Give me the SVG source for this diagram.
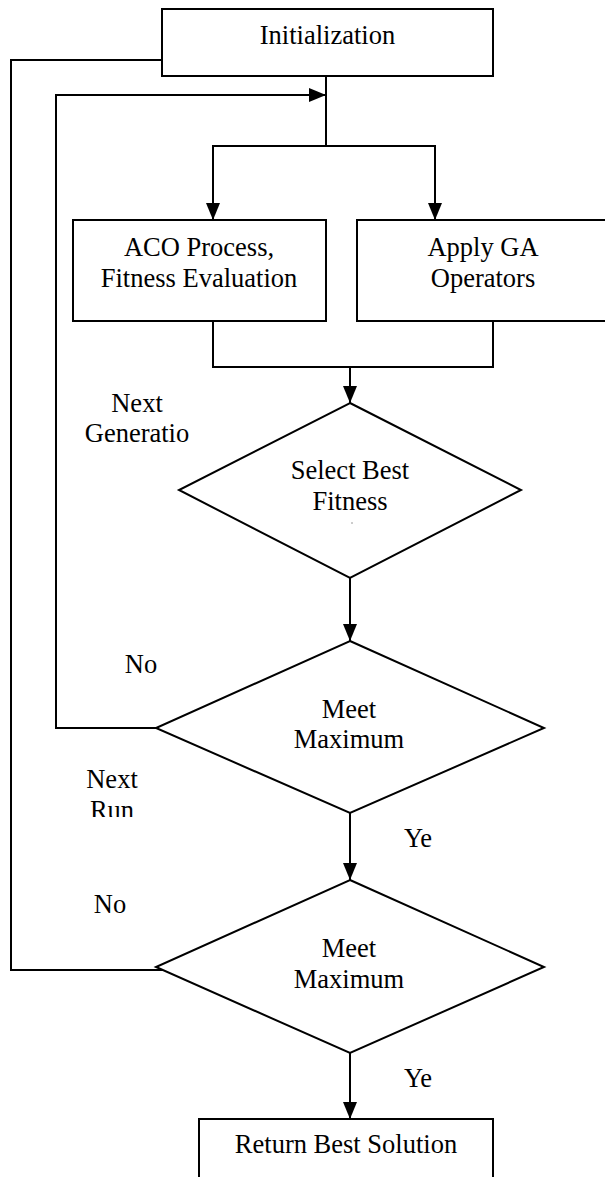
<svg xmlns="http://www.w3.org/2000/svg" width="605" height="1177" viewBox="0 0 605 1177">
  <style>
    .shape { fill: #ffffff; stroke: #000000; stroke-width: 2; }
    .wire { fill: none; stroke: #000000; stroke-width: 2; }
    .lbl { font-family: "Liberation Serif", "Times New Roman", serif; font-size: 26.5px; fill: #000000; text-anchor: middle; }
  </style>
  <defs>
    <marker id="arrow" markerUnits="userSpaceOnUse" markerWidth="18" markerHeight="14" refX="17" refY="7" orient="auto">
      <path d="M0,0 L17,7 L0,14 Z" fill="#000000"/>
    </marker>
    <clipPath id="runClip">
      <rect x="60" y="790" width="120" height="27"/>
    </clipPath>
  </defs>
  <rect width="605" height="1177" fill="#ffffff"/>

  <!-- connectors -->
  <g id="connectors">
    <!-- initialization to split -->
    <polyline class="wire" points="326,76 326,146"/>
    <line class="wire" x1="212" y1="146" x2="436" y2="146"/>
    <line class="wire" x1="213" y1="146" x2="213" y2="220" marker-end="url(#arrow)"/>
    <line class="wire" x1="435" y1="146" x2="435" y2="220" marker-end="url(#arrow)"/>
    <!-- join after the two process boxes -->
    <polyline class="wire" points="213,321 213,367 493,367 493,321"/>
    <line class="wire" x1="350" y1="367" x2="350" y2="403" marker-end="url(#arrow)"/>
    <!-- select best to first check -->
    <line class="wire" x1="350" y1="578" x2="350" y2="641" marker-end="url(#arrow)"/>
    <!-- first check to second check -->
    <line class="wire" x1="350" y1="813" x2="350" y2="880" marker-end="url(#arrow)"/>
    <!-- second check to result -->
    <line class="wire" x1="350" y1="1053" x2="350" y2="1119" marker-end="url(#arrow)"/>
    <!-- next generation loop -->
    <polyline class="wire" points="156,728 56,728 56,95 326,95" marker-end="url(#arrow)"/>
    <!-- next run loop -->
    <polyline class="wire" points="162,60 11,60 11,970 163,970"/>
  </g>

  <g id="init">
    <rect class="shape" x="162" y="9" width="331" height="67"/>
    <text class="lbl" x="327.5" y="44">Initialization</text>
  </g>

  <g id="aco">
    <rect class="shape" x="73" y="220" width="253" height="101"/>
    <text class="lbl" x="199" y="256">ACO Process,</text>
    <text class="lbl" x="199" y="287">Fitness Evaluation</text>
  </g>

  <g id="ga">
    <rect class="shape" x="357" y="220" width="252" height="101"/>
    <text class="lbl" x="483" y="256">Apply GA</text>
    <text class="lbl" x="483" y="287">Operators</text>
  </g>

  <g id="select">
    <polygon class="shape" points="350,403 521,490 350,578 179,490"/>
    <text class="lbl" x="350" y="479">Select Best</text>
    <text class="lbl" x="350" y="510">Fitness</text>
    <line x1="351" y1="523" x2="353" y2="523" stroke="#9a9a9a" stroke-width="1"/>
  </g>

  <g id="check-generation">
    <polygon class="shape" points="350,641 544,728 350,813 156,728"/>
    <text class="lbl" x="349" y="718">Meet</text>
    <text class="lbl" x="349" y="748">Maximum</text>
  </g>

  <g id="check-run">
    <polygon class="shape" points="350,880 544,967 350,1053 156,967"/>
    <text class="lbl" x="349" y="957">Meet</text>
    <text class="lbl" x="349" y="988">Maximum</text>
  </g>

  <g id="result">
    <rect class="shape" x="199" y="1119" width="294" height="70"/>
    <text class="lbl" x="346" y="1153">Return Best Solution</text>
  </g>

  <g id="labels">
    <text class="lbl" x="137" y="412">Next</text>
    <text class="lbl" x="137" y="442">Generatio</text>
    <text class="lbl" x="141" y="673">No</text>
    <text class="lbl" x="112" y="788">Next</text>
    <text class="lbl" x="112" y="819" clip-path="url(#runClip)">Run</text>
    <text class="lbl" x="418" y="847">Ye</text>
    <text class="lbl" x="110" y="913">No</text>
    <text class="lbl" x="418" y="1087">Ye</text>
  </g>
</svg>
